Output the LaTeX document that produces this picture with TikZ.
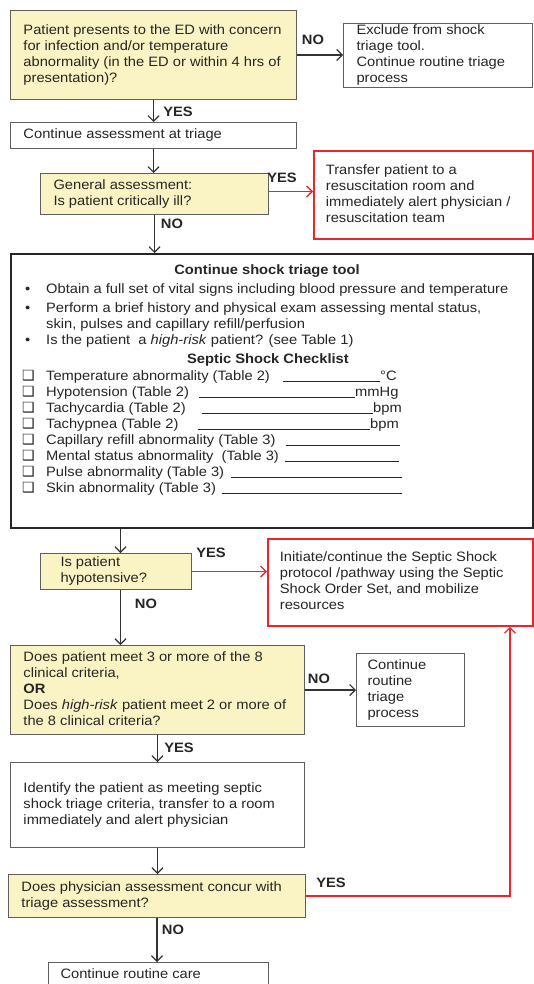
\documentclass[tikz,border=0pt]{standalone}
\usepackage{fontspec}
\setmainfont{Liberation Sans}[FakeStretch=1.08]
\newfontfamily\dejavu{DejaVu Sans}
\usetikzlibrary{arrows.meta}
\definecolor{yfill}{RGB}{250,244,196}
\definecolor{rline}{RGB}{232,38,46}
\definecolor{bline}{RGB}{95,95,95}
\newcommand\bx[3]{\makebox[#1pt][l]{\hspace{#2pt}\begin{tabular}{@{}l@{}}#3\end{tabular}}}
\newcommand\cbx{{\dejavu\fontsize{14}{14}\selectfont ❑}}
\newcommand\chk[4]{\makebox[24pt][l]{\cbx}\makebox[#1pt][l]{#2}\rule[-2pt]{#3pt}{0.6pt}#4}
\begin{document}
\begin{tikzpicture}[x=1pt,y=-1pt,
  every node/.style={font=\fontsize{13.6}{16}\selectfont, text=black!85},
  box/.style={draw=bline, line width=1pt, fill=white, inner sep=0pt, anchor=north west},
  ybox/.style={box, fill=yfill},
  rbox/.style={box, draw=rline, line width=1.8pt},
  bigbox/.style={draw=black!85, line width=2pt, inner sep=0pt, anchor=north west},
  arr/.style={draw=black!80, line width=1.2pt, -{Straight Barb[length=5.5pt,width=11pt]}},
  rarr/.style={draw=rline, line width=1.3pt, -{Straight Barb[length=5.5pt,width=11pt]}},
  lbl/.style={font=\fontsize{13.6}{16}\selectfont\bfseries},
  ln/.style={anchor=base west, inner sep=0pt},
  ttl/.style={anchor=base, inner sep=0pt, font=\fontsize{13.6}{16}\selectfont\bfseries},
]
\useasboundingbox (0,0) rectangle (534,984);
\clip (0,0) rectangle (534,984);
\fill[white] (0,0) rectangle (534,984);

% boxes
\node[ybox, minimum width=286pt, minimum height=89pt] (q1) at (10,10)
  {\bx{286}{13}{Patient presents to the ED with concern\\for infection and/or temperature\\abnormality (in the ED or within 4 hrs of\\presentation)?}};
\node[box, minimum width=189pt, minimum height=62pt] (excl) at (343,23)
  {\bx{189}{13}{Exclude from shock\\triage tool.\\Continue routine triage\\process}};
\node[box, minimum width=286pt, minimum height=26pt] (b2) at (10,122)
  {\bx{286}{13}{Continue assessment at triage}};
\node[ybox, minimum width=228pt, minimum height=41pt] (b3) at (40,173)
  {\bx{228}{13}{General assessment:\\Is patient critically ill?}};
\node[rbox, minimum width=219pt, minimum height=88pt] (red1) at (313,150)
  {\bx{219}{12}{Transfer patient to a\\resuscitation room and\\immediately alert physician /\\resuscitation team}};
\node[bigbox, minimum width=522pt, minimum height=274pt] (big) at (10,253) {};
\node[ybox, minimum width=151pt, minimum height=36pt] (b4) at (40,553)
  {\bx{151}{20}{Is patient\\hypotensive?}};
\node[rbox, minimum width=265pt, minimum height=87pt] (red2) at (267,538)
  {\bx{265}{12}{Initiate/continue the Septic Shock\\protocol /pathway using the Septic\\Shock Order Set, and mobilize\\resources}};
\node[ybox, minimum width=294pt, minimum height=89pt] (b5) at (10,645)
  {\bx{294}{13}{Does patient meet 3 or more of the 8\\clinical criteria,\\\textbf{OR}\\Does \textit{high-risk} patient meet 2 or more of\\the 8 clinical criteria?}};
\node[box, minimum width=108pt, minimum height=73pt] (ctr) at (356,653)
  {\bx{108}{11}{Continue\\routine\\triage\\process}};
\node[box, minimum width=294pt, minimum height=85pt] (b7) at (10,762)
  {\bx{294}{13}{Identify the patient as meeting septic\\shock triage criteria, transfer to a room\\immediately and alert physician}};
\node[ybox, minimum width=297pt, minimum height=43pt] (b8) at (8,874)
  {\bx{297}{13}{Does physician assessment concur with\\triage assessment?}};
\node[box, minimum width=220pt, minimum height=26pt] (last) at (48,962)
  {\bx{220}{12}{Continue routine care}};

% big box content
\node[ttl] (t1) at (267,274) {Continue shock triage tool};
\node[ln] (bl1) at (25,293) {\makebox[21pt][l]{•}Obtain a full set of vital signs including blood pressure and temperature};
\node[ln] (bl2) at (25,312) {\makebox[21pt][l]{•}Perform a brief history and physical exam assessing mental status,};
\node[ln] (bl2b) at (46,328) {skin, pulses and capillary refill/perfusion};
\node[ln] (bl3) at (25,344) {\makebox[21pt][l]{•}Is the patient~ a \textit{high-risk} patient? (see Table 1)};
\node[ttl] (t2) at (268,363) {Septic Shock Checklist};
\node[ln] (c1) at (22,380) {\chk{237}{Temperature abnormality (Table 2)}{97}{°C}};
\node[ln] (c2) at (22,396) {\chk{153}{Hypotension (Table 2)}{156}{mmHg}};
\node[ln] (c3) at (22,412) {\chk{156}{Tachycardia (Table 2)}{171}{bpm}};
\node[ln] (c4) at (22,428) {\chk{152}{Tachypnea (Table 2)}{172}{bpm}};
\node[ln] (c5) at (22,444) {\chk{240}{Capillary refill abnormality (Table 3)}{114}{}};
\node[ln] (c6) at (22,460) {\chk{239}{Mental status abnormality~ (Table 3)}{114}{}};
\node[ln] (c7) at (22,476) {\chk{185}{Pulse abnormality (Table 3)}{171}{}};
\node[ln] (c8) at (22,492) {\chk{176}{Skin abnormality (Table 3)}{180}{}};

% connectors
\coordinate (b4top) at ([xshift=4.5pt]b4.north);
\coordinate (rx) at (510,0);
\draw[arr] (q1.south) -- (q1.south |- b2.north);
\draw[arr] (q1.east) -- (q1.east -| excl.west);
\draw[arr] (b2.south) -- (b2.south |- b3.north);
\draw[rarr] ([yshift=2.5pt]b3.east) -- ([yshift=2.5pt]b3.east -| red1.west);
\draw[arr] (b3.south) -- (b3.south |- big.north);
\draw[arr] (b4top |- big.south) -- (b4top);
\draw[rarr] (b4.east) -- (b4.east -| red2.west);
\draw[arr] (b4top |- b4.south) -- (b4top |- b5.north);
\draw[arr] (b5.east) -- (b5.east -| ctr.west);
\draw[arr] (b5.south) -- (b5.south |- b7.north);
\draw[arr] (b7.south) -- (b7.south |- b8.north);
\draw[rarr] (b8.east) -| (rx |- red2.south);
\draw[arr] (b8.south) -- (b8.south |- last.north);

% labels
\node[lbl] (l1) at (313,40) {NO};
\node[lbl] (l2) at (178,112) {YES};
\node[lbl] (l3) at (282,178) {YES};
\node[lbl] (l4) at (172,224) {NO};
\node[lbl] (l5) at (211,553) {YES};
\node[lbl] (l6) at (146,604) {NO};
\node[lbl] (l7) at (319,679) {NO};
\node[lbl] (l8) at (179,748) {YES};
\node[lbl] (l9) at (331,883) {YES};
\node[lbl] (l10) at (173,930) {NO};
\end{tikzpicture}
\end{document}
